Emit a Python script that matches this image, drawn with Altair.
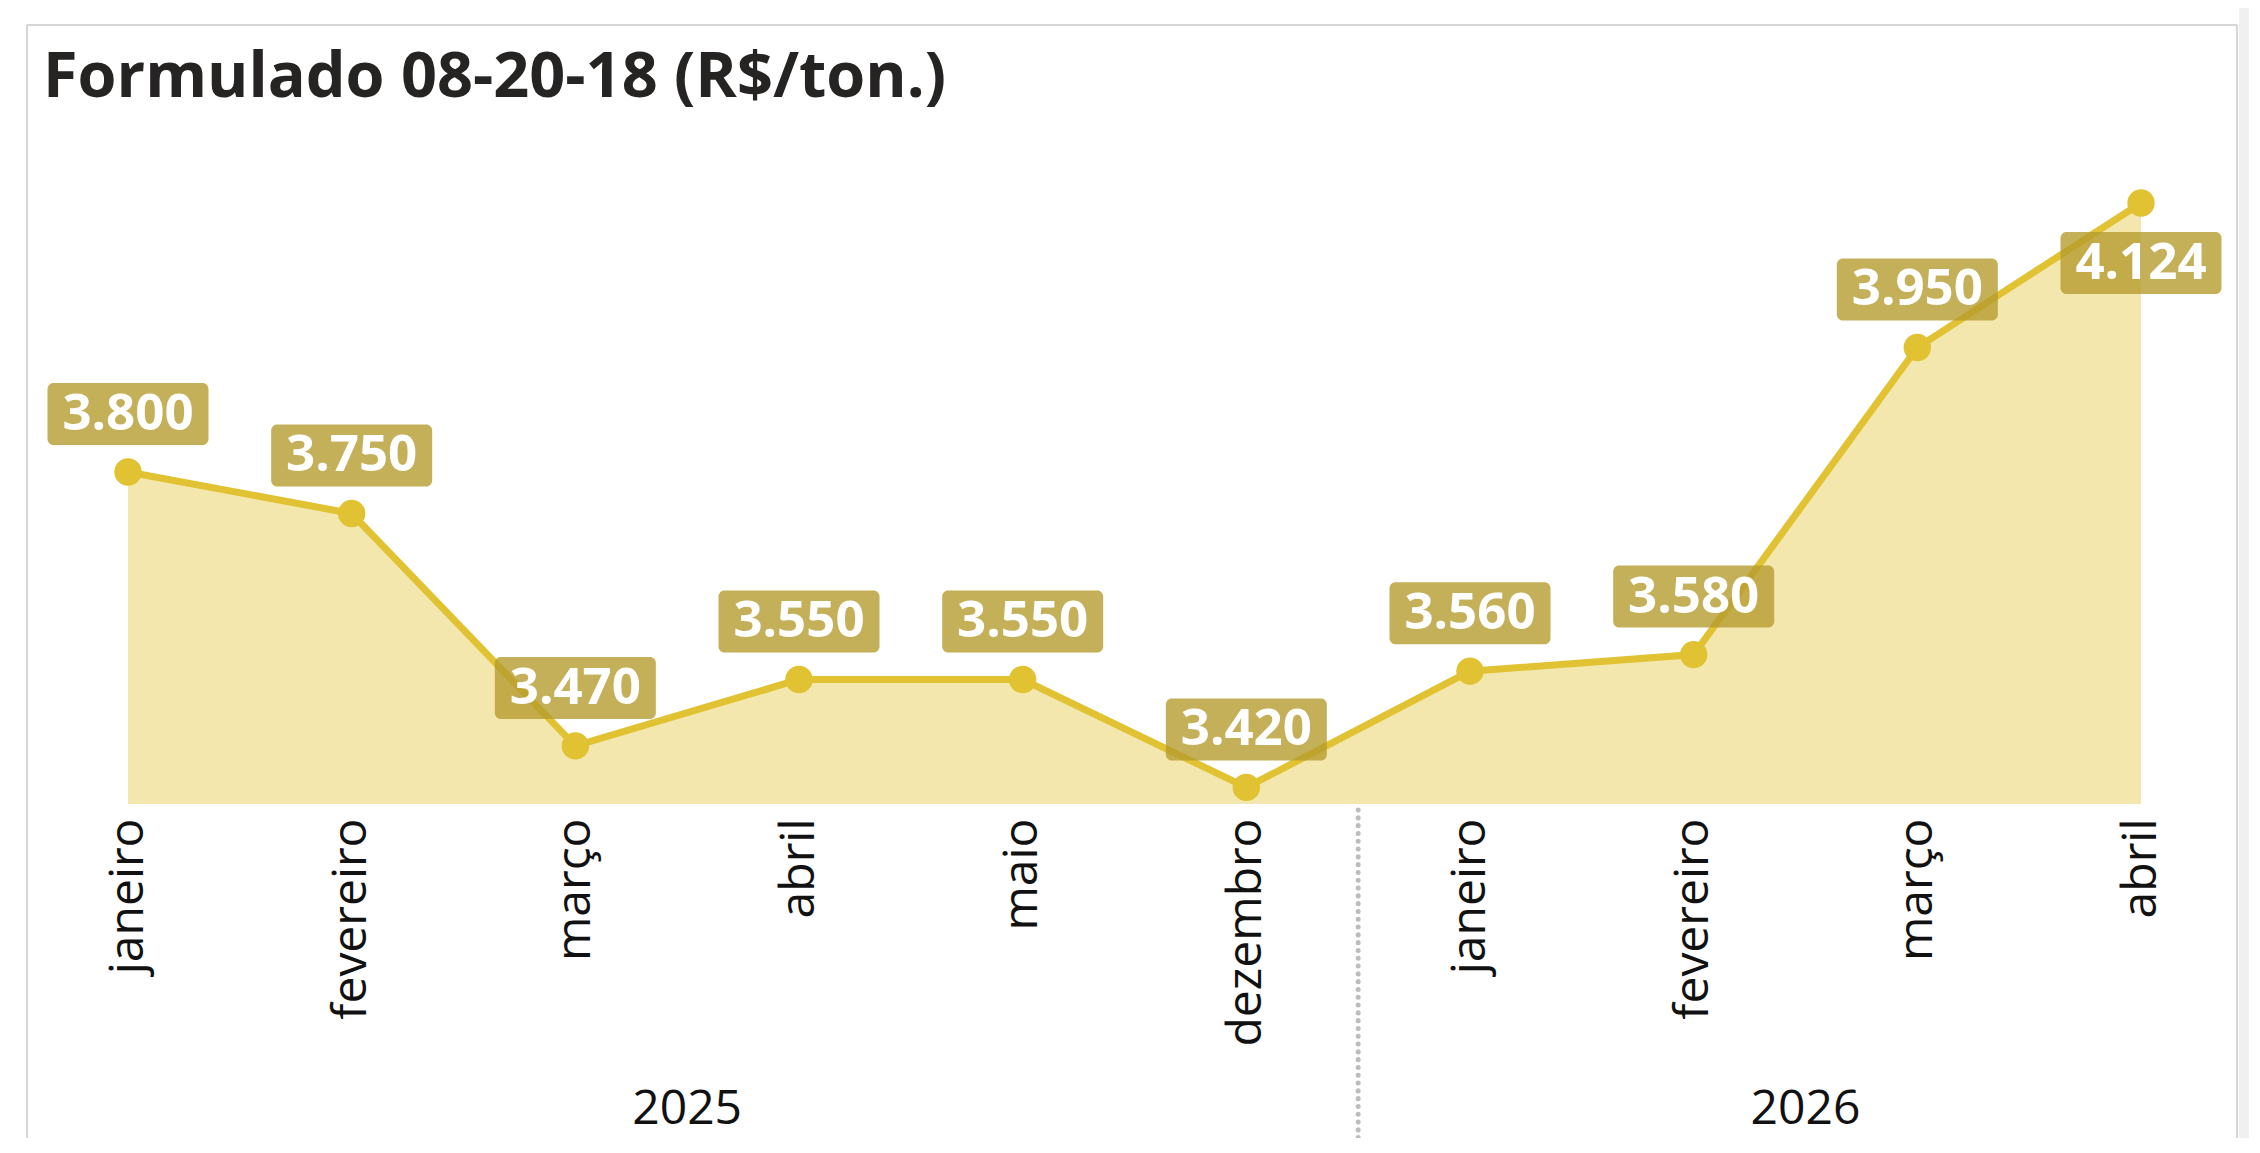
import altair as alt
import pandas as pd

title_text = "Formulado 08-20-18 (R$/ton.)"
months = ["janeiro", "fevereiro", "março", "abril", "maio", "dezembro",
          "janeiro", "fevereiro", "março", "abril"]
years = ["2025", "2025", "2025", "2025", "2025", "2025",
         "2026", "2026", "2026", "2026"]
values = [3800, 3750, 3470, 3550, 3550, 3420, 3560, 3580, 3950, 4124]

n = len(values)
df = pd.DataFrame({
    "idx": list(range(n)),
    "month": months,
    "year": years,
    "value": values,
    "label": [f"{v:,}".replace(",", ".") for v in values],
})

C = "#E0C232"
BOX = "#B59C2E"
FONT = "Open Sans"
Y_MIN, Y_MAX = 3400, 4212

x_scale = alt.Scale(domain=[0, n - 1], nice=False, zero=False, padding=0)
y_scale = alt.Scale(domain=[Y_MIN, Y_MAX], nice=False, zero=False)

label_expr = "[" + ",".join(f"'{m}'" for m in months) + "][datum.value]"
x_axis = alt.Axis(values=list(range(n)), labelExpr=label_expr, labelAngle=270,
                  labelAlign="right", labelBaseline="middle", labelPadding=14,
                  ticks=False, domain=False, grid=False, labelFont=FONT,
                  labelFontSize=48, labelColor="#111111", labelOverlap=False,
                  labelFlush=False, labelLimit=0)

base = alt.Chart(df)
X = alt.X("idx:Q", scale=x_scale, axis=x_axis, title=None)
Y = alt.Y("value:Q", scale=y_scale, axis=None)

area = base.mark_area(color=C, opacity=0.4).encode(x=X, y=Y, y2=alt.datum(Y_MIN))
line = base.mark_line(color=C, strokeWidth=7).encode(x=X, y=Y)
points = base.mark_circle(color=C, size=750, opacity=1).encode(x=X, y=Y)

above = base.transform_joinaggregate(maxidx="max(idx)").transform_filter("datum.idx < datum.maxidx")
below = base.transform_joinaggregate(maxidx="max(idx)").transform_filter("datum.idx == datum.maxidx")

box_above = above.mark_rect(width=161, height=62, cornerRadius=6, color=BOX,
                            opacity=0.8, yOffset=-58).encode(x=X, y=Y)
text_above = above.mark_text(font=FONT, fontWeight="bold", fontSize=51, color="white",
                             align="center", baseline="middle", dy=-57).encode(
    x=X, y=Y, text="label:N")
box_below = below.mark_rect(width=161, height=62, cornerRadius=6, color=BOX,
                            opacity=0.8, yOffset=60).encode(x=X, y=Y)
text_below = below.mark_text(font=FONT, fontWeight="bold", fontSize=51, color="white",
                             align="center", baseline="middle", dy=61).encode(
    x=X, y=Y, text="label:N")

sep = base.transform_filter(alt.datum.year == years[0]).transform_aggregate(
    m="max(idx)").transform_calculate(sep="datum.m + 0.5").mark_rule(
    color="#BDBDBD", strokeWidth=5, strokeDash=[0.1, 7.7], strokeCap="round").encode(
    x=alt.X("sep:Q", scale=x_scale, title=None), y=alt.value(680), y2=alt.value(1008))

year_text = base.transform_aggregate(mid="mean(idx)", groupby=["year"]).mark_text(
    font=FONT, fontSize=48, color="#111111", baseline="middle", align="center").encode(
    x=alt.X("mid:Q", scale=x_scale, title=None), y=alt.value(980), text="year:N")

one = alt.Chart(pd.DataFrame({"t": [title_text]}))
title = one.mark_text(font=FONT, fontWeight="bold", fontSize=63, color="#252423",
                      align="left", baseline="alphabetic").encode(
    text="t:N", x=alt.value(-85), y=alt.value(-33))

border_left = one.mark_rule(color="#D6D6D6", strokeWidth=2).encode(
    x=alt.value(-101), y=alt.value(-105), y2=alt.value(1008))
border_top = one.mark_rule(color="#D6D6D6", strokeWidth=2).encode(
    x=alt.value(-101), x2=alt.value(2109), y=alt.value(-105))
border_right = one.mark_rule(color="#D6D6D6", strokeWidth=2).encode(
    x=alt.value(2109), y=alt.value(-105), y2=alt.value(1008))
strip = one.mark_rect(color="#F0F0F0").encode(
    x=alt.value(2111), x2=alt.value(2121), y=alt.value(-122), y2=alt.value(1008))

chart = alt.layer(
    strip, border_left, border_top, border_right, title,
    area, line, points, sep, year_text,
    box_above, text_above, box_below, text_below,
).properties(
    width=2013, height=674,
    padding={"left": 120, "top": 122, "right": 108, "bottom": 334},
    autosize=alt.AutoSizeParams(type="none"),
    background="white",
).configure_view(strokeWidth=0)

chart.save("out.html", embed_options={"renderer": "svg", "actions": False})
